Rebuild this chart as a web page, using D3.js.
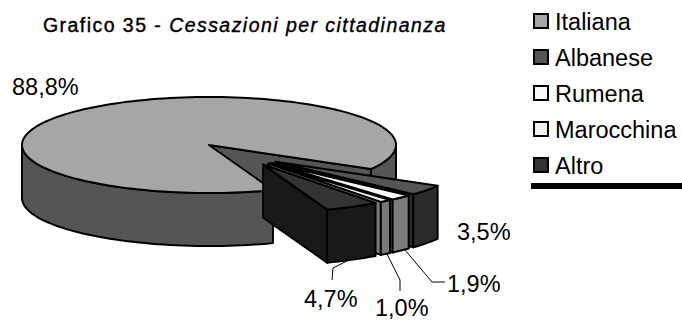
<!DOCTYPE html>
<html>
<head>
<meta charset="utf-8">
<script src="https://cdnjs.cloudflare.com/ajax/libs/d3/7.8.5/d3.min.js"></script>
<style>
html, body { margin: 0; padding: 0; background: #fff; }
svg { display: block; }
text { font-family: "Liberation Sans", Arial, sans-serif; fill: #000; }
</style>
</head>
<body>
<svg id="chart" width="682" height="320"></svg>
<script>
var categories = ['Italiana', 'Albanese', 'Rumena', 'Marocchina', 'Altro'];
var values     = [88.8, 3.5, 1.9, 1.0, 4.7];
var topColors  = ['#a6a6a6', '#555555', '#fafafa', '#f0f0f0', '#333333'];
var sideColors = ['#555555', '#2b2b2b', '#7d7d7d', '#787878', '#191919'];
var exploded   = [0, 0.5, 0.5, 0.5, 0.5];

/* where the labels sit and how their leader lines run */
var labelPos = [[12, 95], [457, 240], [447, 292], [375, 316], [304, 307]];
var leaders  = [null, null,
    [[405, 250], [432, 282], [445, 282]],
    [[387, 254], [400, 280], [400, 291]],
    [[347, 261], [333, 268], [332, 280]]];

var cx = 209, cy = 145, rx = 187, ry = 48, depth = 53;
var rad = Math.PI / 180;
var svg = d3.select('#chart');

var pie = d3.pie().sort(null).startAngle(70 * rad).endAngle((70 + 360) * rad);
var slices = pie(values);

function pt(o, a) {
    return [o[0] + rx * Math.cos(a), o[1] + ry * Math.sin(a)];
}
function arcPts(o, a0, a1) {
    var n = Math.max(2, Math.ceil((a1 - a0) / (2 * rad)));
    return d3.range(n + 1).map(function (i) { return pt(o, a0 + (a1 - a0) * i / n); });
}
function drop(p) { return [p[0], p[1] + depth]; }

var line = d3.line();

function poly(points, fill) {
    svg.append('path')
       .attr('d', line(points) + 'Z')
       .attr('fill', fill)
       .attr('stroke', '#000')
       .attr('stroke-width', 2)
       .attr('stroke-linejoin', 'round');
}

/* explosion direction is squeezed towards the middle of the exploded group */
var groupMid = (slices[1].startAngle + slices[4].endAngle) / 2;

slices.forEach(function (s, i) {
    var mid = (s.startAngle + s.endAngle) / 2;
    var dir = groupMid + (mid - groupMid) * 0.4;
    var o = [cx + exploded[i] * rx * Math.cos(dir), cy + exploded[i] * ry * Math.sin(dir)];
    var a0 = s.startAngle, a1 = s.endAngle;

    /* cut face at the far edge of the slice */
    var e = pt(o, a1);
    poly([o, e, drop(e), drop(o)], sideColors[i]);

    /* outer wall, only the parts that face the viewer */
    [[0, 180], [360, 540]].forEach(function (range) {
        var b0 = Math.max(a0, range[0] * rad), b1 = Math.min(a1, range[1] * rad);
        if (b1 <= b0) { return; }
        var upper = arcPts(o, b0, b1);
        poly(upper.concat(upper.map(drop).reverse()), sideColors[i]);
    });

    /* top surface */
    poly([o].concat(arcPts(o, a0, a1)), topColors[i]);
});

leaders.forEach(function (l) {
    if (!l) { return; }
    svg.append('path').attr('d', line(l)).attr('fill', 'none')
       .attr('stroke', '#000').attr('stroke-width', 1);
});

values.forEach(function (v, i) {
    svg.append('text')
       .attr('x', labelPos[i][0]).attr('y', labelPos[i][1])
       .attr('font-size', 23.5)
       .text(v.toFixed(1).replace('.', ',') + '%');
});

/* title: regular weight with a thin outline, the original is only slightly heavy */
var title = svg.append('text').attr('x', 43).attr('y', 32)
               .attr('font-size', 19.5)
               .attr('stroke', '#000').attr('stroke-width', 0.4)
               .attr('letter-spacing', 1.45);
title.append('tspan').text('Grafico 35 - ');
title.append('tspan').attr('font-style', 'italic').text('Cessazioni per cittadinanza');

/* legend */
var legendY = d3.scalePoint().domain(categories).range([21, 165]);
var legend = svg.selectAll('g.legend').data(categories).enter().append('g').attr('class', 'legend')
    .attr('transform', function (d) { return 'translate(0,' + legendY(d) + ')'; });
legend.append('rect')
      .attr('x', 534).attr('y', -7).attr('width', 14).attr('height', 14)
      .attr('fill', function (d, i) { return topColors[i]; })
      .attr('stroke', '#000').attr('stroke-width', 2);
legend.append('text')
      .attr('x', 555).attr('y', 8.5).attr('font-size', 23.5)
      .text(function (d) { return d; });

svg.append('rect').attr('x', 531).attr('y', 183).attr('width', 151).attr('height', 6).attr('fill', '#000');
</script>
</body>
</html>
